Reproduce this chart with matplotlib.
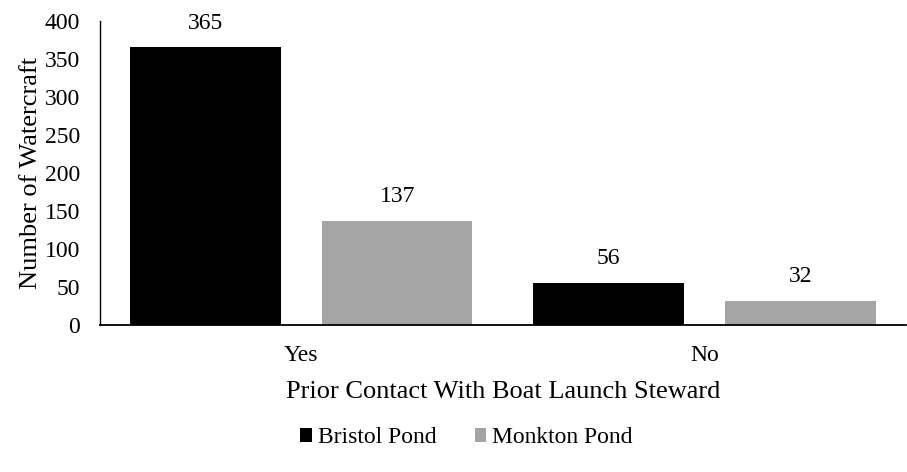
import matplotlib.pyplot as plt
import numpy as np

plt.rcParams['font.family'] = ['Liberation Serif', 'DejaVu Serif']

categories = ['Yes', 'No']
series_names = ['Bristol Pond', 'Monkton Pond']
bristol = [365, 56]
monkton = [137, 32]
colors = ['#000000', '#A5A5A5']

fig = plt.figure(figsize=(9.07, 4.72), dpi=100)
ax = fig.add_axes([0.110, 0.311, 0.889, 0.645])

x = np.arange(len(categories))
w = 0.373
gap = 0.103
off = (w + gap) / 2
for vals, name, c, sgn in [(bristol, series_names[0], colors[0], -1),
                           (monkton, series_names[1], colors[1], 1)]:
    bars = ax.bar(x + sgn * off, vals, w, color=c, label=name)
    ax.bar_label(bars, padding=10, fontsize=17)

ax.set_xlim(-0.5, 1.5)
ax.set_ylim(0, 400)
ax.set_yticks(range(0, 401, 50))
ax.set_xticks(x)
ax.set_xticklabels(categories)
ax.tick_params(axis='both', length=0, labelsize=17)
ax.tick_params(axis='x', pad=14)
ax.tick_params(axis='y', pad=14)
for s in ['top', 'right']:
    ax.spines[s].set_visible(False)
ax.spines['left'].set_linewidth(1.0)
ax.spines['bottom'].set_linewidth(1.3)

ax.set_xlabel('Prior Contact With Boat Launch Steward', fontsize=19, labelpad=11)
ax.set_ylabel('Number of Watercraft', fontsize=19, labelpad=2)

ax.legend(loc='center', bbox_to_anchor=(0.455, -0.37), ncol=2, frameon=False,
          fontsize=17, handlelength=0.5, handleheight=0.5, handletextpad=0.25,
          columnspacing=1.6)

fig.savefig('out.png', dpi=100)
